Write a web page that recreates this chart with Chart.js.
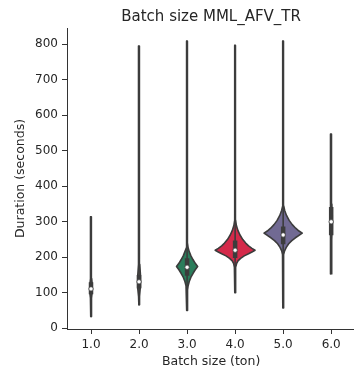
<!DOCTYPE html>
<html>
<head>
<meta charset="utf-8">
<script src="https://cdn.jsdelivr.net/npm/chart.js@4.4.1/dist/chart.umd.min.js"></script>
<style>
  html, body { margin: 0; padding: 0; background: #fff; overflow: hidden; }
  canvas { display: block; }
</style>
</head>
<body>
<canvas id="chart" width="360" height="374"></canvas>
<script>
const batchSizes = ['1.0', '2.0', '3.0', '4.0', '5.0', '6.0'];
const yTicks = [0, 100, 200, 300, 400, 500, 600, 700, 800];

// inner box per batch size (seconds)
const medians = [111, 131, 172, 220, 263, 300];
const q1 = [96, 112, 148, 198, 237, 262];
const q3 = [130, 150, 197, 247, 287, 342];
const whiskerLow = [40, 66, 75, 125, 160, 153];
const whiskerHigh = [181, 210, 270, 320, 363, 462];

// violin outlines: duration levels and half widths (in category widths)
const levels1 = [33, 60, 85, 100, 111, 125, 140, 180, 250, 314];
const widths1 = [0.004, 0.008, 0.012, 0.022, 0.026, 0.022, 0.014, 0.01, 0.008, 0.004];
const levels2 = [66, 90, 115, 131, 150, 180, 250, 400, 795];
const widths2 = [0.004, 0.01, 0.026, 0.032, 0.026, 0.015, 0.01, 0.008, 0.004];
const levels3 = [50, 60, 80, 95, 108, 120, 132, 144, 155, 165, 174, 183, 193, 204, 216, 228, 240, 260, 400, 600, 809];
const widths3 = [0.004, 0.006, 0.008, 0.011, 0.013, 0.022, 0.045, 0.08, 0.125, 0.17, 0.22, 0.17, 0.125, 0.08, 0.045, 0.02, 0.008, 0.008, 0.008, 0.007, 0.004];
const levels4 = [100, 130, 160, 172, 182, 190, 197, 204, 210, 215, 220, 225, 232, 240, 250, 262, 275, 290, 305, 330, 500, 797];
const widths4 = [0.004, 0.008, 0.009, 0.015, 0.03, 0.06, 0.115, 0.19, 0.28, 0.35, 0.415, 0.35, 0.28, 0.22, 0.16, 0.105, 0.06, 0.025, 0.01, 0.008, 0.008, 0.004];
const levels5 = [57, 100, 150, 190, 208, 218, 228, 238, 247, 255, 262, 268, 274, 282, 292, 304, 318, 332, 345, 370, 500, 809];
const widths5 = [0.004, 0.008, 0.008, 0.009, 0.013, 0.03, 0.065, 0.115, 0.18, 0.255, 0.33, 0.398, 0.33, 0.26, 0.19, 0.125, 0.07, 0.032, 0.012, 0.008, 0.008, 0.004];
const levels6 = [153, 200, 250, 280, 300, 320, 350, 400, 547];
const widths6 = [0.004, 0.008, 0.014, 0.02, 0.024, 0.02, 0.014, 0.008, 0.004];

const violinLevels = [levels1, levels2, levels3, levels4, levels5, levels6];
const violinWidths = [widths1, widths2, widths3, widths4, widths5, widths6];
const violinColors = ['#7d8799', '#8a8175', '#2b7d5b', '#d42a4a', '#716a93', '#d3cde3'];

const edge = '#3c3c3c';
const ink = '#262626';
const font = 'DejaVu Sans';

function outline(i) {
  const lv = violinLevels[i], w = violinWidths[i];
  const right = lv.map((y, k) => ({ x: i + w[k], y }));
  const left = lv.map((y, k) => ({ x: i - w[k], y })).reverse();
  return right.concat(left);
}

const datasets = [];
batchSizes.forEach((b, i) => {
  datasets.push({
    data: outline(i),
    fill: 'shape',
    backgroundColor: violinColors[i],
    borderColor: edge,
    borderWidth: 1.6,
    borderJoinStyle: 'round',
    pointRadius: 0,
    tension: 0,
    order: 4
  });
  datasets.push({
    data: [{ x: i, y: whiskerLow[i] }, { x: i, y: whiskerHigh[i] }],
    borderColor: edge,
    borderWidth: 1.6,
    pointRadius: 0,
    fill: false,
    order: 3
  });
  datasets.push({
    data: [{ x: i, y: q1[i] }, { x: i, y: q3[i] }],
    borderColor: edge,
    borderWidth: 4.5,
    borderCapStyle: 'butt',
    pointRadius: 0,
    fill: false,
    order: 2
  });
});
datasets.push({
  data: medians.map((m, i) => ({ x: i, y: m })),
  showLine: false,
  pointRadius: 2.2,
  pointBackgroundColor: '#fff',
  pointBorderColor: edge,
  pointBorderWidth: 0.8,
  order: 1
});

new Chart(document.getElementById('chart'), {
  type: 'line',
  data: { datasets },
  options: {
    responsive: false,
    animation: false,
    events: [],
    layout: { padding: { left: 0, right: 3, top: 0, bottom: 0 } },
    plugins: {
      legend: { display: false },
      tooltip: { enabled: false },
      title: {
        display: true,
        text: 'Batch size MML_AFV_TR',
        color: ink,
        fullSize: false,
        font: { family: font, size: 15, weight: 'normal' },
        padding: { top: 8, bottom: 2 }
      }
    },
    scales: {
      x: {
        type: 'linear',
        min: -0.5,
        max: 5.5,
        afterFit: s => { s.height = 45; },
        afterBuildTicks: s => { s.ticks = batchSizes.map((b, i) => ({ value: i })); },
        ticks: {
          color: ink,
          padding: 4,
          font: { family: font, size: 12 },
          callback: v => batchSizes[v]
        },
        grid: { display: true, drawOnChartArea: false, drawTicks: true, tickLength: 5, color: '#333' },
        border: { display: true, color: '#333', width: 1 },
        title: {
          display: true,
          text: 'Batch size (ton)',
          color: ink,
          font: { family: font, size: 12.5 },
          padding: { top: 0, bottom: 4.5 }
        }
      },
      y: {
        type: 'linear',
        min: -2,
        max: 846,
        afterFit: s => { s.width = 67; },
        afterBuildTicks: s => { s.ticks = yTicks.map(v => ({ value: v })); },
        ticks: {
          color: ink,
          padding: 4,
          font: { family: font, size: 12 }
        },
        grid: { display: true, drawOnChartArea: false, drawTicks: true, tickLength: 5, color: '#333' },
        border: { display: true, color: '#333', width: 1 },
        title: {
          display: true,
          text: 'Duration (seconds)',
          color: ink,
          font: { family: font, size: 12.5 },
          padding: { top: 13, bottom: 0 }
        }
      }
    }
  }
});
</script>
</body>
</html>
